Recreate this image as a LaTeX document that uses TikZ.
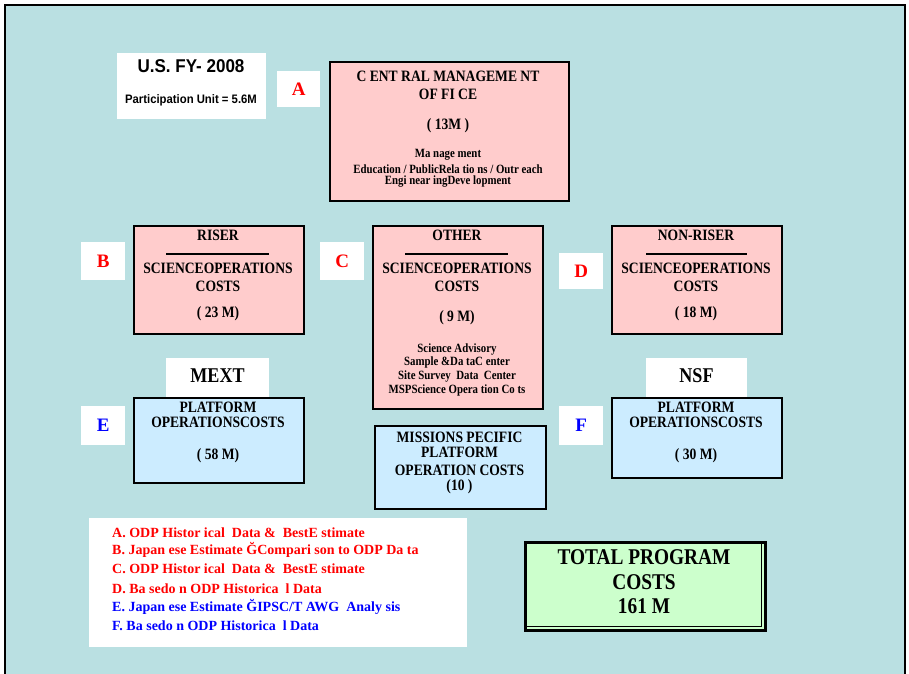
\documentclass[tikz,border=0pt]{standalone}
\usepackage{fontspec}
\setmainfont{Liberation Serif}
\newfontfamily\cnd[FakeStretch=0.86]{Liberation Serif}
\newfontfamily\hv[FakeStretch=0.92]{Liberation Sans}
\definecolor{bgteal}{RGB}{186,224,226}
\definecolor{pinkbox}{RGB}{255,204,204}
\definecolor{bluebox}{RGB}{204,236,255}
\definecolor{greenbox}{RGB}{204,255,204}
\definecolor{redtxt}{RGB}{255,0,0}
\definecolor{bluetxt}{RGB}{0,0,255}
\newcommand{\fs}[1]{\fontsize{#1}{#1}\selectfont}
\tikzset{
  box/.style={draw=black, line width=2pt, anchor=north west, inner sep=0pt},
  wbox/.style={fill=white, anchor=north west, inner sep=0pt},
  t/.style={inner sep=0pt, font=\cnd\bfseries\fs{15.8}},
  ts/.style={inner sep=0pt, font=\cnd\bfseries\fs{12.6}},
  letr/.style={inner sep=0pt, font=\bfseries\fs{19}, text=redtxt},
  letb/.style={inner sep=0pt, font=\bfseries\fs{19}, text=bluetxt},
  leg/.style={inner sep=0pt, anchor=west, font=\bfseries\fs{14}},
  big/.style={inner sep=0pt, font=\cnd\bfseries\fs{21}},
  tbig/.style={inner sep=0pt, font=\cnd\bfseries\fs{22.5}},
  rule/.style={line width=2pt}
}
\begin{document}
\begin{tikzpicture}[x=1pt,y=-1pt]
\useasboundingbox (0,0) rectangle (909,673);
\fill[white] (0,0) rectangle (909,673);
\draw[line width=2pt, fill=bgteal] (5,5) rectangle (905,700);

% US FY box
\node[wbox, minimum width=149pt, minimum height=66pt] (us) at (117,53) {};
\node[inner sep=0pt, font=\hv\bfseries\fs{18.5}] (ust) at (191,66) {U.S. FY- 2008};
\node[inner sep=0pt, font=\hv\bfseries\fs{12.3}] (usp) at (191,100) {Participation Unit = 5.6M};

% letter boxes
\node[wbox, minimum width=43pt, minimum height=36pt] (la) at (277,71) {};
\node[letr] (lat) at (la.center) {A};
\node[wbox, minimum width=44pt, minimum height=38pt] (lb) at (81,242) {};
\node[letr] (lbt) at (lb.center) {B};
\node[wbox, minimum width=44pt, minimum height=38pt] (lc) at (320,242) {};
\node[letr] (lct) at (lc.center) {C};
\node[wbox, minimum width=44pt, minimum height=36pt] (ld) at (559,253) {};
\node[letr] (ldt) at (ld.center) {D};
\node[wbox, minimum width=44pt, minimum height=39pt] (le) at (81,406) {};
\node[letb] (let) at (le.center) {E};
\node[wbox, minimum width=44pt, minimum height=39pt] (lf) at (559,406) {};
\node[letb] (lft) at (lf.center) {F};

% Central management office
\node[box, fill=pinkbox, minimum width=239pt, minimum height=139pt] (cmo) at (329,61) {};
\node[t] (cmo1) at (448,76) {C ENT RAL MANAGEME NT};
\node[t] (cmo2) at (448,94) {OF FI CE};
\node[t] (cmo3) at (448,126) {( 13M )};
\node[ts] (cmo4) at (448,155) {Ma nage ment};
\node[ts] (cmo5) at (448,169) {Education / PublicRela tio ns / Outr each};
\node[ts] (cmo6) at (448,182) {Engi near ingDeve lopment};

% Riser
\node[box, fill=pinkbox, minimum width=170pt, minimum height=108pt] (ris) at (133,225) {};
\node[t] (ris1) at (218,235) {RISER};
\draw[rule] (166,254) -- (269,254);
\node[t] (ris2) at (218,268) {SCIENCEOPERATIONS};
\node[t] (ris3) at (218,286) {COSTS};
\node[t] (ris4) at (218,314) {( 23 M)};

% Other
\node[box, fill=pinkbox, minimum width=170pt, minimum height=183pt] (oth) at (372,225) {};
\node[t] (oth1) at (457,235) {OTHER};
\draw[rule] (405,254) -- (508,254);
\node[t] (oth2) at (457,268) {SCIENCEOPERATIONS};
\node[t] (oth3) at (457,286) {COSTS};
\node[t] (oth4) at (457,318) {( 9 M)};
\node[ts] (oth5) at (457,349) {Science Advisory};
\node[ts] (oth6) at (457,362) {Sample \&Da taC enter};
\node[ts] (oth7) at (457,376) {Site Survey \ Data \ Center};
\node[ts] (oth8) at (457,390) {MSPScience Opera tion Co ts};

% Non-riser
\node[box, fill=pinkbox, minimum width=170pt, minimum height=108pt] (nr) at (611,225) {};
\node[t] (nr1) at (696,235) {NON-RISER};
\draw[rule] (646,254) -- (747,254);
\node[t] (nr2) at (696,268) {SCIENCEOPERATIONS};
\node[t] (nr3) at (696,286) {COSTS};
\node[t] (nr4) at (696,314) {( 18 M)};

% MEXT / NSF labels
\node[wbox, minimum width=103pt, minimum height=39pt] (mext) at (166,358) {};
\node[big] (mextt) at (217.5,376) {MEXT};
\node[wbox, minimum width=101pt, minimum height=39pt] (nsf) at (646,358) {};
\node[big] (nsft) at (696.5,376) {NSF};

% Platform E
\node[box, fill=bluebox, minimum width=170pt, minimum height=85pt] (pe) at (133,397) {};
\node[t] (pe1) at (218,407) {PLATFORM};
\node[t] (pe2) at (218,422) {OPERATIONSCOSTS};
\node[t] (pe3) at (218,456) {( 58 M)};

% Mission specific
\node[box, fill=bluebox, minimum width=171pt, minimum height=83pt] (ms) at (374,425) {};
\node[t] (ms1) at (459.5,437) {MISSIONS PECIFIC};
\node[t] (ms2) at (459.5,452) {PLATFORM};
\node[t] (ms3) at (459.5,470) {OPERATION COSTS};
\node[t] (ms4) at (459.5,487) {(10 )};

% Platform F
\node[box, fill=bluebox, minimum width=170pt, minimum height=80pt] (pf) at (611,397) {};
\node[t] (pf1) at (696,407) {PLATFORM};
\node[t] (pf2) at (696,422) {OPERATIONSCOSTS};
\node[t] (pf3) at (696,456) {( 30 M)};

% Legend
\node[wbox, minimum width=378pt, minimum height=129pt] (lg) at (89,518) {};
\node[leg, text=redtxt] (lg1) at (112,533) {A.\ ODP Histor ical \ Data \& \ BestE stimate};
\node[leg, text=redtxt] (lg2) at (112,550) {B.\ Japan ese Estimate ĞCompari son to ODP Da ta};
\node[leg, text=redtxt] (lg3) at (112,569) {C.\ ODP Histor ical \ Data \& \ BestE stimate};
\node[leg, text=redtxt] (lg4) at (112,589) {D.\ Ba sedo n ODP Historica \ l Data};
\node[leg, text=bluetxt] (lg5) at (112,607) {E.\ Japan ese Estimate ĞIPSC/T AWG \ Analy sis};
\node[leg, text=bluetxt] (lg6) at (112,626) {F.\ Ba sedo n ODP Historica \ l Data};

% Total
\node[box, line width=2.5pt, fill=greenbox, minimum width=240pt, minimum height=88pt] (tot) at (524,541) {};
\draw[line width=1pt] ([xshift=-5pt,yshift=-1pt]tot.north east) -- ([xshift=-5pt,yshift=5pt]tot.south east) -- ([xshift=1pt,yshift=5pt]tot.south west);
\node[tbig] (tot1) at (644,557) {TOTAL PROGRAM};
\node[tbig] (tot2) at (644,582) {COSTS};
\node[tbig] (tot3) at (644,606) {161 M};
\end{tikzpicture}
\end{document}
